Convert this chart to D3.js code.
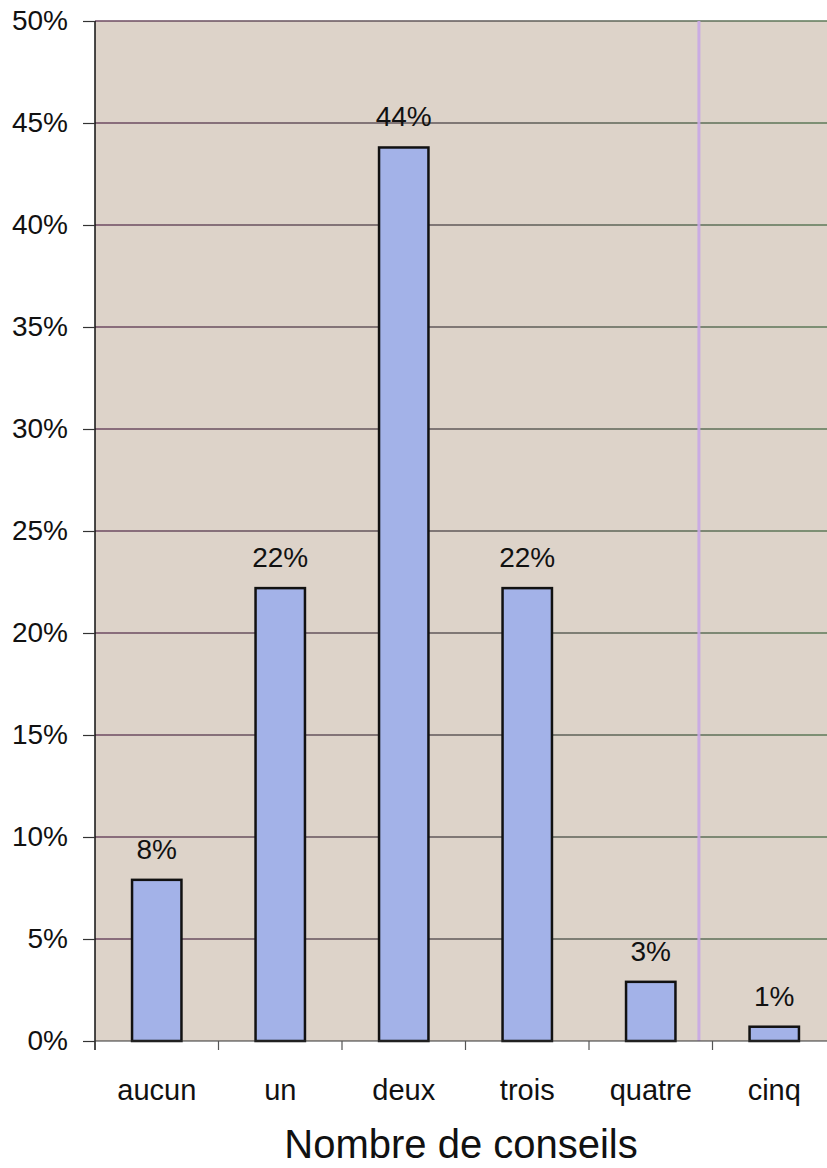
<!DOCTYPE html>
<html>
<head>
<meta charset="utf-8">
<script src="https://cdn.jsdelivr.net/npm/d3@7"></script>
<style>
  html, body { margin: 0; padding: 0; background: #ffffff; }
  svg { display: block; }
  text { font-family: Arial, "Liberation Sans", sans-serif; fill: #111; }
</style>
</head>
<body>
<svg id="chart" width="827" height="1168"></svg>
<script>
const categories = ["aucun", "un", "deux", "trois", "quatre", "cinq"];
const values = [0.079, 0.222, 0.438, 0.222, 0.029, 0.007];
const valueLabels = ["8%", "22%", "44%", "22%", "3%", "1%"];
const yTicks = [0, 0.05, 0.10, 0.15, 0.20, 0.25, 0.30, 0.35, 0.40, 0.45, 0.50];
const xTitle = "Nombre de conseils";

const svg = d3.select("#chart");
const W = 827;
const pLeft = 95, pTop = 21, pBottom = 1041, pRight = 836;

const x = d3.scaleBand().domain(categories).range([pLeft, pRight]).paddingInner(0.6).paddingOuter(0.3);
const y = d3.scaleLinear().domain([0, 0.5]).range([pBottom, pTop]);

const defs = svg.append("defs");
const grad = defs.append("linearGradient").attr("id", "gridGrad")
  .attr("gradientUnits", "userSpaceOnUse").attr("x1", pLeft).attr("x2", W).attr("y1", 0).attr("y2", 0);
grad.append("stop").attr("offset", "0%").attr("stop-color", "#6e4a62");
grad.append("stop").attr("offset", "55%").attr("stop-color", "#5e5a58");
grad.append("stop").attr("offset", "100%").attr("stop-color", "#5d7a58");

// plot background
svg.append("rect").attr("x", pLeft).attr("y", pTop).attr("width", W - pLeft).attr("height", pBottom - pTop)
  .attr("fill", "#ddd3c9");

// gridlines
svg.append("g").selectAll("line").data(yTicks.filter(d => d > 0)).join("line")
  .attr("x1", pLeft).attr("x2", W)
  .attr("y1", d => y(d)).attr("y2", d => y(d))
  .attr("stroke", "url(#gridGrad)").attr("stroke-width", 1.4);

// faint vertical scan line
const step = x.step();
const scanX = x(categories[5]) - step * 0.41;
svg.append("line").attr("x1", scanX).attr("x2", scanX)
  .attr("y1", pTop).attr("y2", pBottom)
  .attr("stroke", "#c9a8e6").attr("stroke-width", 3).attr("opacity", 0.9);

// bars
svg.append("g").selectAll("rect").data(values).join("rect")
  .attr("x", (d, i) => x(categories[i]))
  .attr("y", d => y(d))
  .attr("width", x.bandwidth())
  .attr("height", d => y(0) - y(d))
  .attr("fill", "#a3b2e8")
  .attr("stroke", "#111")
  .attr("stroke-width", 2.5);

// value labels
svg.append("g").selectAll("text").data(values).join("text")
  .attr("x", (d, i) => x(categories[i]) + x.bandwidth() / 2)
  .attr("y", d => y(d) - 21)
  .attr("text-anchor", "middle")
  .attr("font-size", 28)
  .text((d, i) => valueLabels[i]);

// y axis
const yAxis = d3.axisLeft(y).tickValues(yTicks).tickFormat(d3.format(".0%")).tickSize(12).tickPadding(15);
const gy = svg.append("g").attr("transform", `translate(${pLeft},0)`).call(yAxis);
gy.select(".domain").attr("stroke", "#111").attr("stroke-width", 1.5).attr("d", `M0,${pTop}V${pBottom + 9}`);
gy.selectAll(".tick line").attr("stroke", "#333").attr("stroke-width", 1.2);
gy.selectAll(".tick text").attr("font-size", 28).attr("fill", "#111")
  .attr("font-family", "Arial, 'Liberation Sans', sans-serif");

// x axis
const xAxis = d3.axisBottom(x).tickSize(0).tickPadding(38);
const gx = svg.append("g").attr("transform", `translate(0,${pBottom})`).call(xAxis);
gx.select(".domain").attr("stroke", "#333").attr("stroke-width", 1.2).attr("d", `M${pLeft},0H${W}`);
gx.selectAll(".tick text").attr("font-size", 29).attr("fill", "#111")
  .attr("font-family", "Arial, 'Liberation Sans', sans-serif");
// category boundary ticks
const gap = step - x.bandwidth();
const bounds = categories.map(c => x(c) - gap / 2);
svg.append("g").selectAll("line").data(bounds.slice(1)).join("line")
  .attr("x1", d => d).attr("x2", d => d)
  .attr("y1", pBottom).attr("y2", pBottom + 9)
  .attr("stroke", "#555").attr("stroke-width", 1.2);

// x title
svg.append("text").attr("x", (pLeft + W) / 2).attr("y", 1158)
  .attr("text-anchor", "middle").attr("font-size", 40)
  .text(xTitle);
</script>
</body>
</html>
